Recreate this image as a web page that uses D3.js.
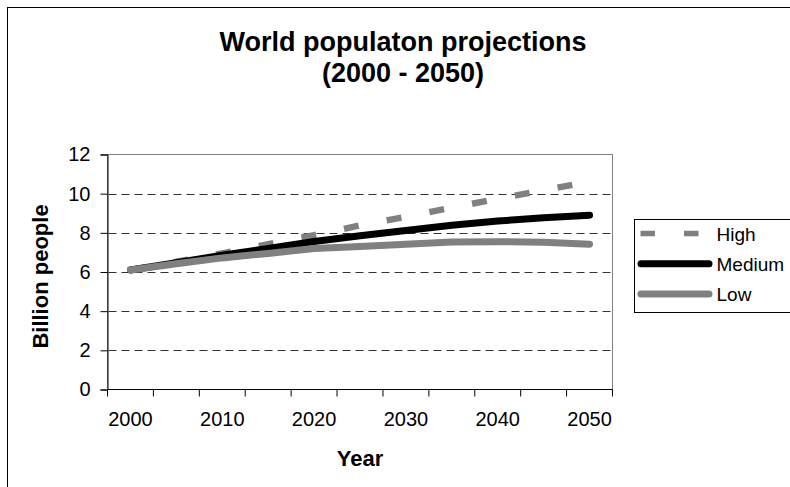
<!DOCTYPE html>
<html>
<head>
<meta charset="utf-8">
<script src="https://cdn.jsdelivr.net/npm/d3@7"></script>
<style>
  html, body { margin: 0; padding: 0; background: #fff; }
  svg { display: block; }
  text { font-family: "Liberation Sans", Arial, sans-serif; fill: #000; }
</style>
</head>
<body>
<svg id="chart" width="790" height="487"></svg>
<script>
// Projection years (five-year steps) and the labelled subset
const years = [2000, 2005, 2010, 2015, 2020, 2025, 2030, 2035, 2040, 2045, 2050];
const yearLabels = [2000, 2010, 2020, 2030, 2040, 2050];
const yTicks = [0, 2, 4, 6, 8, 10, 12];

// World population, billions
const high   = [6.10, 6.52, 6.95, 7.42, 7.88, 8.38, 8.82, 9.29, 9.74, 10.17, 10.62];
const medium = [6.10, 6.47, 6.86, 7.20, 7.56, 7.85, 8.12, 8.39, 8.60, 8.77, 8.90];
const low    = [6.10, 6.42, 6.72, 6.95, 7.20, 7.30, 7.42, 7.53, 7.55, 7.52, 7.42];

const seriesNames = ["High", "Medium", "Low"];
const seriesValues = [high, medium, low];

const svg = d3.select("#chart");
const W = 790, H = 487;

svg.append("rect").attr("width", W).attr("height", H).attr("fill", "#fff");

// outer chart frame
svg.append("rect")
  .attr("x", 7.5).attr("y", 7.5)
  .attr("width", W + 10).attr("height", H + 10)
  .attr("fill", "none").attr("stroke", "#000").attr("stroke-width", 1);

const plot = { left: 107.5, right: 612.5, top: 154.5, bottom: 389.5 };

const x = d3.scaleBand()
  .domain(years)
  .range([plot.left, plot.right])
  .paddingInner(0).paddingOuter(0);

const y = d3.scaleLinear()
  .domain([0, 12])
  .range([plot.bottom, plot.top]);

// plot area border (top/right in grey)
svg.append("rect")
  .attr("x", plot.left).attr("y", plot.top)
  .attr("width", plot.right - plot.left).attr("height", plot.bottom - plot.top)
  .attr("fill", "#fff").attr("stroke", "#808080").attr("stroke-width", 1);

// dashed horizontal gridlines
svg.append("g")
  .selectAll("line")
  .data(yTicks.filter(t => t > 0 && t < 12))
  .join("line")
  .attr("x1", plot.left + 1).attr("x2", plot.right - 1)
  .attr("y1", d => Math.round(y(d)) + 0.5).attr("y2", d => Math.round(y(d)) + 0.5)
  .attr("stroke", "#333").attr("stroke-width", 1)
  .attr("stroke-dasharray", "8,5");

// y axis
const yAxis = d3.axisLeft(y).tickValues(yTicks).tickSize(7).tickPadding(10).tickFormat(d3.format("d"));
const gy = svg.append("g").attr("transform", `translate(${plot.left},0)`).call(yAxis);
gy.select(".domain").attr("stroke", "#000");
gy.selectAll(".tick line").attr("stroke", "#000");
gy.selectAll("text").style("font-size", "20px").attr("font-family", "Liberation Sans, Arial, sans-serif");

// x axis: ticks on category boundaries, labels every ten years
const gx = svg.append("g").attr("transform", `translate(0,${plot.bottom})`);
gx.append("line")
  .attr("x1", plot.left).attr("x2", plot.right)
  .attr("stroke", "#000");
const boundaries = years.map(d => x(d)).concat([x(years[years.length - 1]) + x.bandwidth()]);
gx.selectAll("line.tick")
  .data(boundaries)
  .join("line")
  .attr("class", "tick")
  .attr("x1", d => d).attr("x2", d => d)
  .attr("y1", 0).attr("y2", 7)
  .attr("stroke", "#000");
gx.selectAll("text")
  .data(yearLabels)
  .join("text")
  .attr("x", d => x(d) + x.bandwidth() / 2)
  .attr("y", 36)
  .attr("text-anchor", "middle")
  .style("font-size", "20px")
  .text(d => d);

// series lines
const line = d3.line()
  .x((d, i) => x(years[i]) + x.bandwidth() / 2)
  .y(d => y(d));

const styles = {
  High:   { stroke: "#808080", width: 6.5, dash: "15,28.5", cap: "butt" },
  Medium: { stroke: "#000000", width: 7,   dash: null,      cap: "round" },
  Low:    { stroke: "#808080", width: 7,   dash: null,      cap: "round" }
};

seriesNames.forEach((name, k) => {
  const s = styles[name];
  svg.append("path")
    .datum(seriesValues[k])
    .attr("d", line)
    .attr("fill", "none")
    .attr("stroke", s.stroke)
    .attr("stroke-width", s.width)
    .attr("stroke-linecap", s.cap)
    .attr("stroke-linejoin", "round")
    .attr("stroke-dasharray", s.dash);
});

// title
const title = svg.append("text")
  .attr("text-anchor", "middle")
  .style("font-size", "27px").style("font-weight", "bold");
title.append("tspan").attr("x", 403).attr("y", 51).text("World populaton projections");
title.append("tspan").attr("x", 403).attr("y", 81.5).text("(2000 - 2050)");

// axis titles
svg.append("text")
  .attr("transform", "translate(48,276.5) rotate(-90)")
  .attr("text-anchor", "middle")
  .style("font-size", "22px").style("font-weight", "bold")
  .text("Billion people");

svg.append("text")
  .attr("x", 360).attr("y", 466)
  .attr("text-anchor", "middle")
  .style("font-size", "22px").style("font-weight", "bold")
  .text("Year");

// legend
const legend = svg.append("g");
legend.append("rect")
  .attr("x", 634.5).attr("y", 219.5)
  .attr("width", 200).attr("height", 93)
  .attr("fill", "#fff").attr("stroke", "#000").attr("stroke-width", 1);

const rowY = d3.scalePoint().domain(seriesNames).range([233.5, 294]);
seriesNames.forEach(name => {
  const s = styles[name];
  const ry = rowY(name);
  legend.append("line")
    .attr("x1", s.dash ? 640.5 : 641).attr("x2", s.dash ? 712 : 709)
    .attr("y1", ry).attr("y2", ry)
    .attr("stroke", s.stroke)
    .attr("stroke-width", s.dash ? 5.5 : 7)
    .attr("stroke-linecap", s.cap)
    .attr("stroke-dasharray", s.dash ? "14.5,29" : null);
  legend.append("text")
    .attr("x", 716.5).attr("y", ry + 7)
    .style("font-size", "19px")
    .text(name);
});
</script>
</body>
</html>
